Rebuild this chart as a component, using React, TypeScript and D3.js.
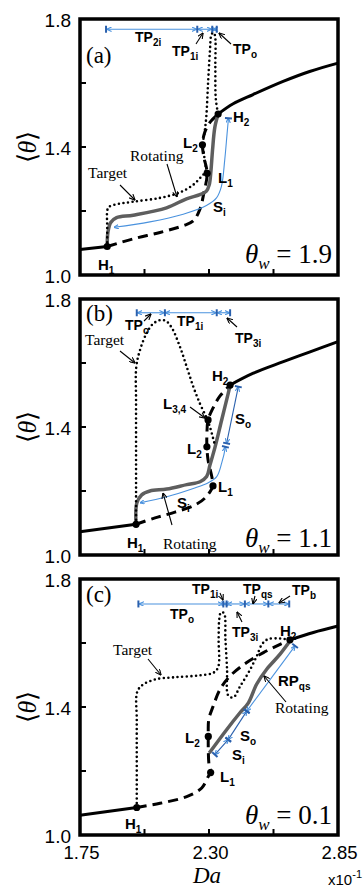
import * as d3 from "d3";

type Pt = [number, number];

// axes
const xDomain: Pt = [1.75, 2.85];
const yDomain: Pt = [1.0, 1.8];
const xTickValues = [1.75, 2.025, 2.3, 2.575, 2.85];
const xLabelValues = [1.75, 2.3, 2.85];
const yTickValues = [1.0, 1.2, 1.4, 1.6, 1.8];
const yLabelValues = [1.0, 1.4, 1.8];
const thetaW = ["1.9", "1.1", "0.1"];

// (a) theta_w = 1.9
const stableLowA: Pt[] = [[1.75, 1.08], [1.866, 1.089]];
const stableUpA: Pt[] = [[2.339, 1.503], [2.403, 1.535], [2.488, 1.564], [2.616, 1.605], [2.729, 1.636], [2.85, 1.662]];
const unstableA: Pt[] = [[1.866, 1.089], [1.977, 1.113], [2.091, 1.133], [2.19, 1.154], [2.233, 1.169], [2.261, 1.205], [2.278, 1.256], [2.292, 1.318], [2.278, 1.369], [2.272, 1.407], [2.282, 1.446], [2.304, 1.477], [2.339, 1.503]];
const rotatingA: Pt[] = [[1.866, 1.089], [1.869, 1.133], [1.881, 1.164], [1.906, 1.179], [1.977, 1.187], [2.119, 1.21], [2.204, 1.238], [2.261, 1.251], [2.289, 1.262], [2.301, 1.282], [2.308, 1.323], [2.315, 1.39], [2.325, 1.462], [2.339, 1.503]];
const targetA: Pt[] = [[1.866, 1.089], [1.866, 1.15], [1.866, 1.2], [1.872, 1.212], [1.9, 1.22], [1.977, 1.229], [2.091, 1.241], [2.176, 1.258], [2.233, 1.282], [2.268, 1.308], [2.285, 1.323], [2.28, 1.369], [2.274, 1.41], [2.282, 1.45], [2.289, 1.5], [2.296, 1.6], [2.304, 1.7], [2.31, 1.75], [2.318, 1.758], [2.325, 1.75], [2.327, 1.65], [2.329, 1.55], [2.339, 1.503]];
const hopfA: Pt[] = [[1.866, 1.089], [2.339, 1.503]];
const limitA: Pt[] = [[2.292, 1.318], [2.272, 1.407]];
const tpBoundsA = [1.861, 2.25, 2.314, 2.333];
const tpLevelA = 1.768;
const siA: Pt[] = [[1.895, 1.149], [2.048, 1.166], [2.19, 1.19], [2.289, 1.217], [2.332, 1.241], [2.353, 1.277], [2.367, 1.359], [2.377, 1.441], [2.383, 1.49]];

// (b) theta_w = 1.1
const stableLowB: Pt[] = [[1.75, 1.073], [1.989, 1.096]];
const stableUpB: Pt[] = [[2.39, 1.531], [2.489, 1.568], [2.617, 1.604], [2.731, 1.635], [2.85, 1.667]];
const unstableB: Pt[] = [[1.989, 1.096], [2.07, 1.116], [2.155, 1.134], [2.24, 1.156], [2.283, 1.178], [2.309, 1.203], [2.317, 1.216], [2.313, 1.241], [2.296, 1.297], [2.291, 1.338], [2.291, 1.375], [2.296, 1.422], [2.317, 1.459], [2.347, 1.497], [2.39, 1.531]];
const rotatingB: Pt[] = [[1.989, 1.096], [1.992, 1.162], [2.013, 1.188], [2.048, 1.2], [2.12, 1.206], [2.205, 1.22], [2.262, 1.229], [2.29, 1.245], [2.304, 1.281], [2.326, 1.338], [2.354, 1.422], [2.382, 1.505], [2.39, 1.531]];
const targetB: Pt[] = [[1.989, 1.096], [1.989, 1.2], [1.989, 1.33], [1.989, 1.48], [1.99, 1.588], [2.006, 1.641], [2.034, 1.693], [2.061, 1.722], [2.091, 1.734], [2.117, 1.731], [2.142, 1.709], [2.176, 1.651], [2.205, 1.588], [2.233, 1.526], [2.262, 1.472], [2.29, 1.428], [2.304, 1.4], [2.317, 1.366], [2.326, 1.341]];
const hopfB: Pt[] = [[1.989, 1.096], [2.39, 1.531]];
const limitB: Pt[] = [[2.317, 1.216], [2.291, 1.338], [2.296, 1.422]];
const tpBoundsB = [1.992, 2.112, 2.333, 2.39];
const tpLevelB = 1.757;
const siB: Pt[] = [[2.006, 1.163], [2.12, 1.182], [2.233, 1.208], [2.297, 1.226], [2.333, 1.245], [2.354, 1.287], [2.37, 1.338]];
const soB: Pt[] = [[2.375, 1.349], [2.425, 1.526]];

// (c) theta_w = 0.1
const stableLowC: Pt[] = [[1.75, 1.062], [1.992, 1.086]];
const stableUpC: Pt[] = [[2.645, 1.61], [2.745, 1.633], [2.85, 1.653]];
const unstableC: Pt[] = [[1.992, 1.086], [2.091, 1.099], [2.205, 1.12], [2.269, 1.147], [2.297, 1.183], [2.307, 1.195], [2.3, 1.22], [2.297, 1.267], [2.297, 1.308], [2.299, 1.361], [2.318, 1.403], [2.347, 1.455], [2.39, 1.497], [2.461, 1.539], [2.532, 1.57], [2.603, 1.596], [2.645, 1.61]];
const rotatingC: Pt[] = [[2.301, 1.256], [2.375, 1.329], [2.432, 1.382], [2.468, 1.413], [2.503, 1.471], [2.546, 1.518], [2.603, 1.565], [2.645, 1.606]];
const targetC: Pt[] = [[1.992, 1.086], [1.992, 1.235], [1.992, 1.361], [1.993, 1.445], [2.013, 1.467], [2.07, 1.486], [2.155, 1.493], [2.262, 1.499], [2.321, 1.508], [2.34, 1.527], [2.341, 1.612], [2.344, 1.675], [2.351, 1.696], [2.364, 1.693], [2.37, 1.612], [2.377, 1.518], [2.382, 1.436], [2.404, 1.43], [2.432, 1.464], [2.468, 1.507], [2.503, 1.558], [2.526, 1.596], [2.552, 1.612], [2.603, 1.614], [2.645, 1.61]];
const hopfC: Pt[] = [[1.992, 1.086], [2.645, 1.61]];
const limitC: Pt[] = [[2.307, 1.195], [2.297, 1.308]];
const tpBoundsC = [1.999, 2.361, 2.375, 2.453, 2.553, 2.642];
const tpLevelC = 1.722;
const siC: Pt[] = [[2.325, 1.251], [2.382, 1.298]];
const soC: Pt[] = [[2.382, 1.298], [2.461, 1.387]];
const rpC: Pt[] = [[2.461, 1.387], [2.667, 1.591]];

const SANS = "Arial, 'Liberation Sans', Helvetica, sans-serif";
const SERIF = "'Times New Roman', 'Liberation Serif', Times, serif";
const BLUE = "#4a92de";
const DBLUE = "#2a60ad";
const GRAY = "#5e5e5e";

const W = 258;
const H = 256;
const LEFT = 80;
const tops = [19, 299, 579];

type Lab = { x: number; y: number; t: string; s?: string; k: "b" | "tp" | "serif" };
type Seg = { pts: Pt[]; color: string; startHead: boolean; startBar: boolean; endBar: boolean };

const panels = [
  {
    tag: "(a)", tagY: 44, tw: thetaW[0], twY: 244,
    stable: [stableLowA, stableUpA], unstable: unstableA, rotating: rotatingA, target: targetA,
    dots: [...hopfA, ...limitA], tpBounds: tpBoundsA, tpLevel: tpLevelA,
    segs: [{ pts: siA, color: BLUE, startHead: true, startBar: false, endBar: true }] as Seg[],
    labels: [
      { x: 55, y: 23, t: "TP", s: "2i", k: "tp" }, { x: 92, y: 37, t: "TP", s: "1i", k: "tp" },
      { x: 153, y: 35, t: "TP", s: "o", k: "tp" }, { x: 153, y: 103, t: "H", s: "2", k: "b" },
      { x: 103, y: 129, t: "L", s: "2", k: "b" }, { x: 138, y: 164, t: "L", s: "1", k: "b" },
      { x: 133, y: 193, t: "S", s: "i", k: "b" }, { x: 18, y: 251, t: "H", s: "1", k: "b" },
      { x: 50, y: 142, t: "Rotating", k: "serif" }, { x: 8, y: 159, t: "Target", k: "serif" },
    ] as Lab[],
    arrows: [[116, 25, 123, 14], [151, 25, 139, 14], [87, 145, 97, 178], [40, 166, 55, 181]],
  },
  {
    tag: "(b)", tagY: 22, tw: thetaW[1], twY: 248,
    stable: [stableLowB, stableUpB], unstable: unstableB, rotating: rotatingB, target: targetB,
    dots: [...hopfB, ...limitB], tpBounds: tpBoundsB, tpLevel: tpLevelB,
    segs: [
      { pts: siB, color: BLUE, startHead: true, startBar: false, endBar: true },
      { pts: soB, color: DBLUE, startHead: true, startBar: true, endBar: true },
    ] as Seg[],
    labels: [
      { x: 45, y: 31, t: "TP", s: "o", k: "tp" }, { x: 97, y: 27, t: "TP", s: "1i", k: "tp" },
      { x: 155, y: 44, t: "TP", s: "3i", k: "tp" }, { x: 132, y: 82, t: "H", s: "2", k: "b" },
      { x: 83, y: 110, t: "L", s: "3,4", k: "b" }, { x: 107, y: 155, t: "L", s: "2", k: "b" },
      { x: 138, y: 193, t: "L", s: "1", k: "b" }, { x: 155, y: 125, t: "S", s: "o", k: "b" },
      { x: 97, y: 209, t: "S", s: "i", k: "b" }, { x: 47, y: 249, t: "H", s: "1", k: "b" },
      { x: 83, y: 250, t: "Rotating", k: "serif" }, { x: 5, y: 46, t: "Target", k: "serif" },
    ] as Lab[],
    arrows: [[64, 22, 71, 15], [157, 28, 147, 19], [40, 52, 55, 64], [110, 108, 125, 119], [92, 226, 83, 194]],
  },
  {
    tag: "(c)", tagY: 23, tw: thetaW[2], twY: 245,
    stable: [stableLowC, stableUpC], unstable: unstableC, rotating: rotatingC, target: targetC,
    dots: [...hopfC, ...limitC], tpBounds: tpBoundsC, tpLevel: tpLevelC,
    segs: [
      { pts: siC, color: DBLUE, startHead: true, startBar: true, endBar: true },
      { pts: soC, color: DBLUE, startHead: true, startBar: true, endBar: true },
      { pts: rpC, color: BLUE, startHead: true, startBar: true, endBar: true },
    ] as Seg[],
    labels: [
      { x: 112, y: 15, t: "TP", s: "1i", k: "tp" }, { x: 163, y: 15, t: "TP", s: "qs", k: "tp" },
      { x: 212, y: 16, t: "TP", s: "b", k: "tp" }, { x: 90, y: 40, t: "TP", s: "o", k: "tp" },
      { x: 152, y: 58, t: "TP", s: "3i", k: "tp" }, { x: 200, y: 57, t: "H", s: "2", k: "b" },
      { x: 198, y: 107, t: "RP", s: "qs", k: "b" }, { x: 105, y: 164, t: "L", s: "2", k: "b" },
      { x: 160, y: 162, t: "S", s: "o", k: "b" }, { x: 152, y: 181, t: "S", s: "i", k: "b" },
      { x: 140, y: 203, t: "L", s: "1", k: "b" }, { x: 45, y: 250, t: "H", s: "1", k: "b" },
      { x: 195, y: 134, t: "Rotating", k: "serif" }, { x: 33, y: 76, t: "Target", k: "serif" },
    ] as Lab[],
    arrows: [[140, 14, 143, 21], [175, 17, 173, 25], [210, 17, 199, 24], [162, 43, 157, 33], [68, 80, 81, 96], [206, 123, 184, 97]],
  },
];

function Label({ l }: { l: Lab }) {
  if (l.k === "serif") {
    return (
      <text x={l.x} y={l.y} fontFamily={SERIF} fontSize={15.5}>
        {l.t}
      </text>
    );
  }
  const fs = l.k === "tp" ? 14 : 15;
  return (
    <text x={l.x} y={l.y} fontFamily={SANS} fontWeight="bold" fontSize={fs}>
      {l.t}
      {l.s && (
        <tspan fontSize={10} dy={4}>
          {l.s}
        </tspan>
      )}
    </text>
  );
}

function Panel({ p, top, last }: { p: (typeof panels)[number]; top: number; last: boolean }) {
  const x = d3.scaleLinear().domain(xDomain).range([0, W]);
  const y = d3.scaleLinear().domain(yDomain).range([H, 0]);
  const smooth = d3
    .line<Pt>()
    .x((d) => x(d[0]))
    .y((d) => y(d[1]))
    .curve(d3.curveCatmullRom.alpha(0.5));
  const straight = d3
    .line<Pt>()
    .x((d) => x(d[0]))
    .y((d) => y(d[1]));

  // short bar perpendicular to a segment end
  const bar = (a: Pt, b: Pt) => {
    const ax = x(a[0]), ay = y(a[1]);
    const dx = ax - x(b[0]), dy = ay - y(b[1]);
    const n = Math.hypot(dx, dy) || 1;
    const px = (-dy / n) * 3.5, py = (dx / n) * 3.5;
    return <line x1={ax - px} y1={ay - py} x2={ax + px} y2={ay + py} stroke={DBLUE} strokeWidth={2} />;
  };
  const ty = y(p.tpLevel);

  return (
    <g transform={`translate(${LEFT},${top})`}>
      {/* branches */}
      {p.stable.map((s, i) => (
        <path key={i} d={smooth(s) ?? ""} fill="none" stroke="#000" strokeWidth={3} />
      ))}
      <path d={smooth(p.unstable) ?? ""} fill="none" stroke="#000" strokeWidth={3} strokeDasharray="10 6" />
      <path d={smooth(p.rotating) ?? ""} fill="none" stroke={GRAY} strokeWidth={3.5} />
      <path d={smooth(p.target) ?? ""} fill="none" stroke="#000" strokeWidth={2.6} strokeDasharray="0 4.6" strokeLinecap="round" />

      {/* transition-point bars */}
      {p.tpBounds.slice(1).map((b, i) => (
        <line key={i} x1={x(p.tpBounds[i]) + 0.8} x2={x(b) - 0.8} y1={ty} y2={ty} stroke={BLUE} strokeWidth={1.1} markerStart="url(#bh)" markerEnd="url(#bh)" />
      ))}
      {p.tpBounds.map((b, i) => (
        <line key={i} x1={x(b)} x2={x(b)} y1={ty - 3.5} y2={ty + 3.5} stroke={DBLUE} strokeWidth={2} />
      ))}

      {/* stability ranges along the rotating branch */}
      {p.segs.map((s, i) => {
        const n = s.pts.length;
        return (
          <g key={i}>
            <path d={(n > 2 ? smooth(s.pts) : straight(s.pts)) ?? ""} fill="none" stroke={s.color} strokeWidth={1.1} markerStart={s.startHead ? "url(#bh)" : undefined} markerEnd="url(#bh)" />
            {s.startBar && bar(s.pts[0], s.pts[1])}
            {s.endBar && bar(s.pts[n - 1], s.pts[n - 2])}
          </g>
        );
      })}

      {p.dots.map((d, i) => (
        <circle key={i} cx={x(d[0])} cy={y(d[1])} r={3.6} fill="#000" />
      ))}

      {p.arrows.map((a, i) => (
        <line key={i} x1={a[0]} y1={a[1]} x2={a[2]} y2={a[3]} stroke="#000" strokeWidth={1.1} markerEnd="url(#kh)" />
      ))}
      {p.labels.map((l, i) => (
        <Label key={i} l={l} />
      ))}

      <text x={6} y={p.tagY} fontFamily={SERIF} fontSize={23}>
        {p.tag}
      </text>
      <text x={252} y={p.twY} textAnchor="end" fontFamily={SERIF} fontSize={27}>
        <tspan fontStyle="italic">θ</tspan>
        <tspan fontStyle="italic" fontSize={17} dy={6}>w</tspan>
        <tspan dy={-6}> = {p.tw}</tspan>
      </text>

      {/* axes */}
      {yTickValues.map((v) => (
        <line key={v} x1={0} x2={6} y1={y(v)} y2={y(v)} stroke="#000" strokeWidth={2} />
      ))}
      {xTickValues.map((v) => (
        <line key={v} x1={x(v)} x2={x(v)} y1={H} y2={H - 6} stroke="#000" strokeWidth={2} />
      ))}
      {yLabelValues.map((v) => (
        <text key={v} x={-9} y={y(v) + 8} textAnchor="end" fontFamily={SANS} fontSize={19}>
          {d3.format(".1f")(v)}
        </text>
      ))}
      {last &&
        xLabelValues.map((v) => (
          <text key={v} x={x(v) + 1.5} y={H + 24} textAnchor="middle" fontFamily={SANS} fontSize={18.5}>
            {d3.format(".2f")(v)}
          </text>
        ))}
      <rect x={0} y={0} width={W} height={H} fill="none" stroke="#000" strokeWidth={3.5} />
      <text transform={`translate(-53,${H / 2}) rotate(-90)`} textAnchor="middle" dominantBaseline="central" fontFamily={SERIF} fontSize={26}>
        ⟨<tspan fontStyle="italic">θ</tspan>⟩
      </text>
    </g>
  );
}

export default function App() {
  return (
    <svg width={364} height={888} style={{ position: "absolute", left: 0, top: 0, background: "#fff" }}>
      <defs>
        <marker id="bh" viewBox="0 0 10 10" refX={9.5} refY={5} markerWidth={5} markerHeight={5} markerUnits="userSpaceOnUse" orient="auto-start-reverse">
          <path d="M0,0.5 L10,5 L0,9.5" fill="none" stroke={BLUE} strokeWidth={2.2} />
        </marker>
        <marker id="kh" viewBox="0 0 10 10" refX={9.5} refY={5} markerWidth={6} markerHeight={6} markerUnits="userSpaceOnUse" orient="auto">
          <path d="M0,0.5 L10,5 L0,9.5" fill="none" stroke="#000" strokeWidth={1.8} />
        </marker>
      </defs>
      {panels.map((p, i) => (
        <Panel key={i} p={p} top={tops[i]} last={i === panels.length - 1} />
      ))}
      <text x={207} y={883} textAnchor="middle" fontFamily={SERIF} fontStyle="italic" fontSize={23}>
        Da
      </text>
      <text x={362} y={885} textAnchor="end" fontFamily={SANS} fontSize={15}>
        x10<tspan fontSize={11} dy={-7}>-1</tspan>
      </text>
    </svg>
  );
}
